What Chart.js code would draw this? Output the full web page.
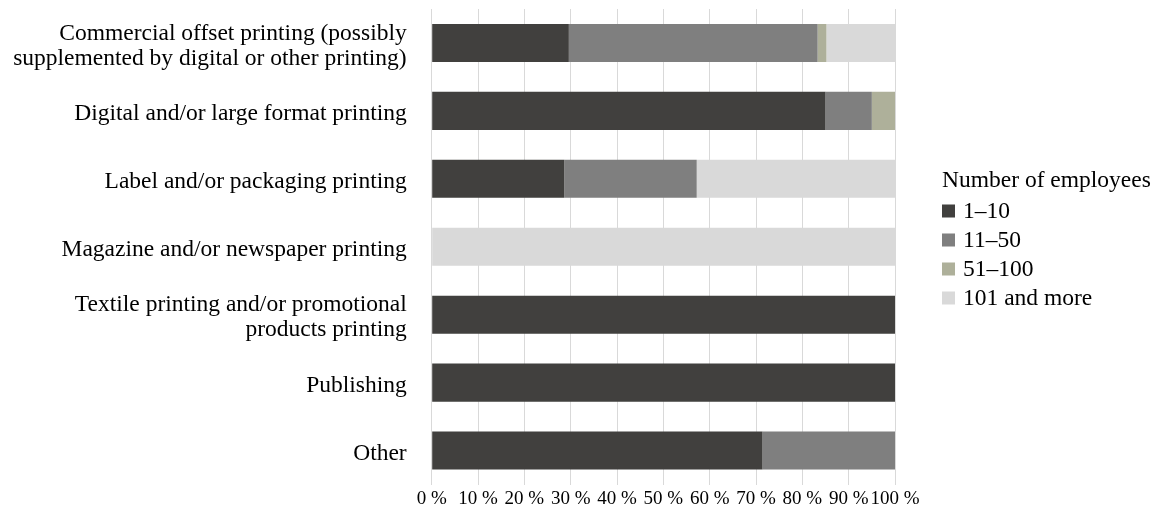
<!DOCTYPE html>
<html>
<head>
<meta charset="utf-8">
<script src="https://cdn.jsdelivr.net/npm/chart.js@4/dist/chart.umd.min.js"></script>
<style>
  html, body { margin: 0; padding: 0; background: #fff; }
  #wrap { width: 1164px; height: 519px; position: relative; }
</style>
</head>
<body>
<div id="wrap"><canvas id="chart"></canvas></div>
<script>
// ---------- Data ----------
const categories = [
  ["Commercial offset printing (possibly", "supplemented by digital or other printing)"],
  "Digital and/or large format printing",
  "Label and/or packaging printing",
  "Magazine and/or newspaper printing",
  ["Textile printing and/or promotional", "products printing"],
  "Publishing",
  "Other"
];
const seriesNames = ["1–10", "11–50", "51–100", "101 and more"];
const small     = [29.6, 85.0, 28.6, 0, 100, 100, 71.4];   // 1–10
const medium    = [53.7, 10.0, 28.6, 0, 0, 0, 28.6];       // 11–50
const large     = [1.9, 5.0, 0, 0, 0, 0, 0];               // 51–100
const veryLarge = [14.8, 0, 42.8, 100, 0, 0, 0];           // 101 and more
const xTicks = [0, 10, 20, 30, 40, 50, 60, 70, 80, 90, 100];
const legendTitle = "Number of employees";

const colors = ["#41403e", "#7f7f7f", "#aeb09a", "#d9d9d9"];
const FONT = "'Liberation Serif', 'Times New Roman', serif";

const datasets = [small, medium, large, veryLarge].map((d, i) => ({
  label: seriesNames[i],
  data: d,
  backgroundColor: colors[i],
  borderWidth: 0,
  barPercentage: 0.56,
  categoryPercentage: 1.0
}));

// Legend drawn by hand so it can sit at a fixed spot right of the plot
const sideLegend = {
  id: "sideLegend",
  afterDraw(chart) {
    const ctx = chart.ctx;
    const x0 = 942, titleY = 181, firstY = 211, step = 29, box = 13;
    ctx.save();
    ctx.font = "23.5px " + FONT;
    ctx.fillStyle = "#000";
    ctx.textAlign = "left";
    ctx.textBaseline = "middle";
    ctx.fillText(legendTitle, x0, titleY);
    chart.data.datasets.forEach((ds, i) => {
      const y = firstY + i * step;
      ctx.fillStyle = ds.backgroundColor;
      ctx.fillRect(x0, y - box / 2, box, box);
      ctx.fillStyle = "#000";
      ctx.fillText(ds.label, x0 + 21, y + 1);
    });
    ctx.restore();
  }
};

new Chart(document.getElementById("chart"), {
  type: "bar",
  data: { labels: categories, datasets },
  plugins: [sideLegend],
  options: {
    indexAxis: "y",
    responsive: true,
    maintainAspectRatio: false,
    animation: false,
    layout: { padding: { top: 9, right: 269, left: 0, bottom: 0 } },
    plugins: {
      tooltip: { enabled: false },
      legend: { display: false }
    },
    scales: {
      x: {
        stacked: true,
        min: 0,
        max: 100,
        afterBuildTicks: (axis) => { axis.ticks = xTicks.map(v => ({ value: v })); },
        afterFit: (axis) => { axis.height = 34.5; },
        grid: { color: "#d9d9d9", drawTicks: false },
        border: { display: false },
        ticks: {
          color: "#000",
          padding: 3,
          maxRotation: 0,
          autoSkip: false,
          font: { family: FONT, size: 19 },
          callback: (v) => v + " %"
        }
      },
      y: {
        stacked: true,
        afterFit: (axis) => {
          axis.width = 431.7;
          axis.paddingTop = 0;
          axis.paddingBottom = 0;
        },
        grid: { display: false },
        border: { display: false },
        ticks: {
          color: "#000",
          padding: 17,
          labelOffset: 3,
          autoSkip: false,
          font: { family: FONT, size: 23.5, lineHeight: 1.07 }
        }
      }
    }
  }
});
</script>
</body>
</html>
